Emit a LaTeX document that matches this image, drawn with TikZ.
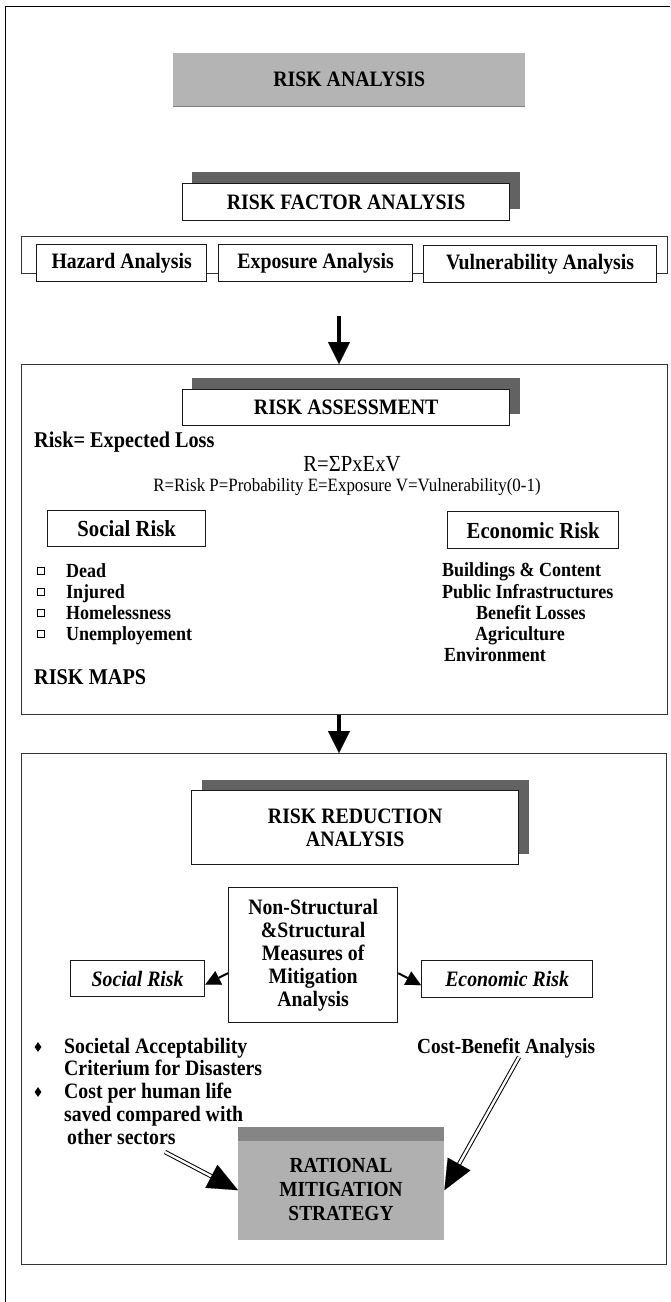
\documentclass[tikz,border=0pt]{standalone}
\usepackage{fontspec}
\setmainfont{Liberation Serif}[FakeStretch=0.9]
\usetikzlibrary{arrows.meta,calc,shapes.geometric}
\definecolor{shadegray}{HTML}{626262}
\definecolor{boxgray}{HTML}{B4B4B4}
\definecolor{rmsgray}{HTML}{B0B0B0}
\definecolor{rmstop}{HTML}{858585}
\tikzset{
  frame/.style={draw=black, line width=1pt},
  cont/.style={draw=black!80, line width=1.4pt, inner sep=0pt, anchor=north west},
  wbox/.style={draw=black!90, line width=1.3pt, fill=white, inner sep=0pt, anchor=north west, align=center},
  shadowbox/.style={fill=shadegray, inner sep=0pt, anchor=north west},
  graybox/.style={fill=boxgray, inner sep=0pt, anchor=north west, align=center},
  ttl/.style={font=\bfseries\fontsize{22}{23}\selectfont},
  lbl/.style={font=\bfseries\fontsize{22}{23}\selectfont},
  itm/.style={font=\bfseries\fontsize{20}{21}\selectfont, anchor=base west, inner sep=0pt},
  bigtxt/.style={font=\bfseries\fontsize{22.5}{24}\selectfont, anchor=base west, inner sep=0pt},
  sq/.style={draw=black, line width=1pt, minimum size=7.5pt, inner sep=0pt},
  dia/.style={diamond, fill=black, minimum width=7pt, minimum height=10pt, inner sep=0pt},
  bigarrow/.style={line width=3.5pt, -{Triangle[length=22pt,width=22pt,line width=0.1pt]}},
  smallarrow/.style={line width=2pt, -{Triangle[length=15pt,width=15pt,line width=0.1pt]}},
  dshaft/.style={draw=black, double=white, double distance=2.4pt, line width=1pt},
  dhead/.style={line width=0.5pt, -{Triangle[length=30pt,width=26pt,line width=0.1pt]}}
}
\begin{document}
\begin{tikzpicture}[x=1pt,y=-1pt]
\useasboundingbox (0,0) rectangle (670,1302);
% outer frame (clipped at right)
\coordinate (ftr) at (670,6);
\coordinate (ftl) at (5,6);
\coordinate (fbl) at (5,1302);
\draw[frame] (ftr) -- (ftl) -- (fbl);

% RISK ANALYSIS
\node[graybox, minimum width=352pt, minimum height=53pt, ttl] (ra) at (173,53) {RISK ANALYSIS};
\draw[black!50, line width=1pt] (ra.south west) -- (ra.south east);

% RISK FACTOR ANALYSIS
\node[shadowbox, minimum width=328pt, minimum height=37pt] (rfas) at (192,172) {};
\node[wbox, minimum width=327pt, minimum height=37pt, ttl] (rfa) at (182,183) {RISK FACTOR ANALYSIS};

% factor row
\node[cont, minimum width=646pt, minimum height=37pt] (row) at (21,236) {};
\node[wbox, minimum width=170pt, minimum height=37pt, lbl] (haz) at (36,244) {Hazard Analysis};
\node[wbox, minimum width=194pt, minimum height=37pt, lbl] (expo) at (218,244) {Exposure Analysis};
\node[wbox, minimum width=233pt, minimum height=37pt, lbl] (vul) at (423,245) {Vulnerability Analysis};

% RISK ASSESSMENT container
\node[cont, minimum width=646pt, minimum height=350pt] (rac) at (21,364) {};
\coordinate (a1) at (339,316);
\draw[bigarrow] (a1) -- (a1 |- rac.north);

\node[shadowbox, minimum width=328pt, minimum height=36pt] (ras) at (192,378) {};
\node[wbox, minimum width=327pt, minimum height=36pt, ttl] (rab) at (182,389) {RISK ASSESSMENT};
\node[bigtxt] (rel) at (34,447) {Risk= Expected Loss};
\node[anchor=base, inner sep=0pt, font=\fontsize{23}{24}\selectfont] (form) at (352,471) {R=ΣPxExV};
\node[anchor=base, inner sep=0pt, font=\fontsize{18.8}{20}\selectfont] (leg) at (347,491) {R=Risk P=Probability E=Exposure V=Vulnerability(0-1)};

\node[wbox, minimum width=158pt, minimum height=36pt, font=\bfseries\fontsize{23}{24}\selectfont] (srb) at (47,510) {Social Risk};
\node[wbox, minimum width=171pt, minimum height=37pt, font=\bfseries\fontsize{23}{24}\selectfont] (erb) at (447,511) {Economic Risk};

\node[sq] (s1) at (41,571) {};
\node[sq] (s2) at (41,592) {};
\node[sq] (s3) at (41,613) {};
\node[sq] (s4) at (41,634) {};
\node[itm] (t1) at (66,577) {Dead};
\node[itm] (t2) at (66,598) {Injured};
\node[itm] (t3) at (66,619) {Homelessness};
\node[itm] (t4) at (66,640) {Unemployement};
\node[bigtxt] (maps) at (34,684) {RISK MAPS};

\node[itm] (e1) at (442,576) {Buildings \& Content};
\node[itm] (e2) at (442,598) {Public Infrastructures};
\node[itm] (e3) at (476,619) {Benefit Losses};
\node[itm] (e4) at (475,640) {Agriculture};
\node[itm] (e5) at (444,661) {Environment};

% RISK REDUCTION container
\node[cont, minimum width=645pt, minimum height=511pt] (rrc) at (21,753) {};
\draw[bigarrow] (a1 |- rac.south) -- (a1 |- rrc.north);

\node[shadowbox, minimum width=327pt, minimum height=74pt] (rrs) at (202,780) {};
\node[wbox, minimum width=327pt, minimum height=74pt, ttl] (rrb) at (191,790) {RISK REDUCTION\\ANALYSIS};

\node[wbox, minimum width=169pt, minimum height=135pt, font=\bfseries\fontsize{22}{23}\selectfont] (ns) at (228,887) {Non-Structural\\\&Structural\\Measures of\\Mitigation\\Analysis};
\node[wbox, minimum width=134pt, minimum height=36pt, font=\bfseries\itshape\fontsize{22}{23}\selectfont] (sri) at (70,960) {Social Risk};
\node[wbox, minimum width=171pt, minimum height=37pt, font=\bfseries\itshape\fontsize{22}{23}\selectfont] (eri) at (421,960) {Economic Risk};
\draw[smallarrow] ([yshift=-18pt]ns.west) -- ([yshift=-6pt]sri.east);
\draw[smallarrow] ([yshift=-18pt]ns.east) -- ([yshift=-6pt]eri.west);

\node[dia] (d1) at (38,1047) {};
\node[dia] (d2) at (38,1092) {};
\node[itm, font=\bfseries\fontsize{22}{23}\selectfont] (c1) at (64,1053) {Societal Acceptability};
\node[itm, font=\bfseries\fontsize{22}{23}\selectfont] (c2) at (64,1075) {Criterium for Disasters};
\node[itm, font=\bfseries\fontsize{22}{23}\selectfont] (c3) at (64,1098) {Cost per human life};
\node[itm, font=\bfseries\fontsize{22}{23}\selectfont] (c4) at (64,1121) {saved compared with};
\node[itm, font=\bfseries\fontsize{22}{23}\selectfont] (c5) at (67,1144) {other sectors};
\node[itm, font=\bfseries\fontsize{21.5}{23}\selectfont] (cb) at (417,1053) {Cost-Benefit Analysis};

% RATIONAL MITIGATION STRATEGY
\node[fill=rmsgray, inner sep=0pt, anchor=north west, minimum width=206pt, minimum height=113pt] (rms) at (238,1127) {};
\node[fill=rmstop, inner sep=0pt, anchor=north west, minimum width=206pt, minimum height=14pt] (rmst) at (238,1127) {};
\node[align=center, inner sep=0pt, font=\bfseries\fontsize{21.5}{24}\selectfont] (rmstxt) at (341,1189) {RATIONAL\\MITIGATION\\STRATEGY};

% double arrows
\coordinate (sL) at (165,1152);
\coordinate (tipL) at ([yshift=-6.5pt]rms.west);
\coordinate (sR) at (519,1057);
\coordinate (tipR) at ([yshift=-6.5pt]rms.east);
\draw[dshaft] (sL) -- ($(tipL)!28pt!(sL)$);
\draw[dhead] ($(tipL)!30pt!(sL)$) -- (tipL);
\draw[dshaft] (sR) -- ($(tipR)!28pt!(sR)$);
\draw[dhead] ($(tipR)!30pt!(sR)$) -- (tipR);
\end{tikzpicture}
\end{document}
